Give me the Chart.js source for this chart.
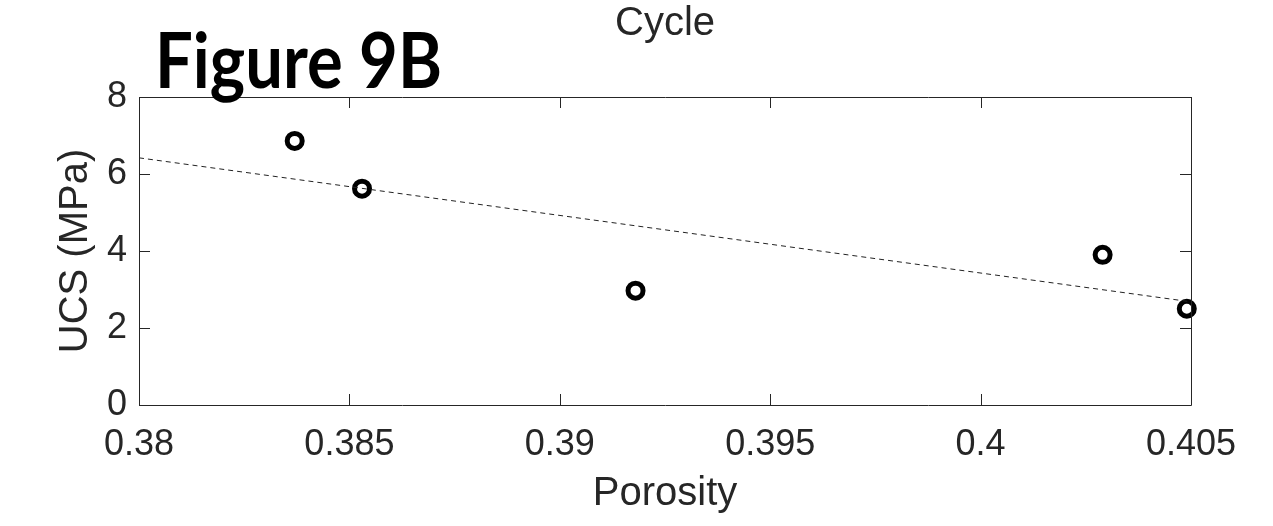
<!DOCTYPE html>
<html>
<head>
<meta charset="utf-8">
<script src="https://cdn.jsdelivr.net/npm/chart.js@4"></script>
<style>
  body { margin: 0; background: #fff; }
  #wrap { position: relative; width: 1273px; height: 526px; }
  #fig-label {
    position: absolute; left: 155px; top: 20px;
    font-family: Lato, "Open Sans", sans-serif; font-weight: bold;
    font-size: 67px; line-height: 67px; color: #000;
    transform-origin: left top; transform: scaleY(1.15);
  }
</style>
</head>
<body>
<div id="wrap">
  <canvas id="chart" width="1273" height="526"></canvas>
  <div id="fig-label">Figure 9B</div>
</div>
<script>
// measured samples: porosity vs UCS
var porosity = [0.3837, 0.3853, 0.3918, 0.4029, 0.4049];
var ucs = [6.86, 5.62, 2.97, 3.90, 2.50];
// dashed fit line end points
var fitX = [0.38, 0.405];
var fitY = [6.42, 2.68];

var textColor = '#262626';

// MATLAB style box with inward ticks
var boxPlugin = {
    id: 'boxTicks',
    afterDatasetsDraw: function(chart) {
        var c = chart.ctx;
        var a = chart.chartArea;
        var xs = chart.scales.x, ys = chart.scales.y;
        var tl = 11;
        c.save();
        c.strokeStyle = textColor;
        c.lineWidth = 1;
        c.beginPath();
        c.rect(Math.round(a.left) + 0.5, Math.round(a.top) + 0.5, Math.round(a.right - a.left), Math.round(a.bottom - a.top));
        xs.ticks.forEach(function(t) {
            var px = Math.round(xs.getPixelForValue(t.value)) + 0.5;
            c.moveTo(px, a.bottom); c.lineTo(px, a.bottom - tl);
            c.moveTo(px, a.top); c.lineTo(px, a.top + tl);
        });
        ys.ticks.forEach(function(t) {
            var py = Math.round(ys.getPixelForValue(t.value)) + 0.5;
            c.moveTo(a.left, py); c.lineTo(a.left + tl, py);
            c.moveTo(a.right, py); c.lineTo(a.right - tl, py);
        });
        c.stroke();
        c.restore();
    }
};

var points = porosity.map(function(v, i) { return {x: v, y: ucs[i]}; });
var fit = fitX.map(function(v, i) { return {x: v, y: fitY[i]}; });

new Chart(document.getElementById('chart'), {
    type: 'scatter',
    data: {
        datasets: [
            {
                type: 'line',
                data: fit,
                borderColor: '#222',
                borderWidth: 1,
                borderDash: [5, 4],
                pointRadius: 0,
                fill: false
            },
            {
                data: points,
                pointRadius: 7.5,
                pointBorderWidth: 5,
                pointBorderColor: '#000',
                pointBackgroundColor: 'rgba(0,0,0,0)',
                clip: false
            }
        ]
    },
    options: {
        responsive: false,
        animation: false,
        layout: { padding: { top: 0, right: 82, bottom: 0, left: 0 } },
        plugins: {
            legend: { display: false },
            tooltip: { enabled: false },
            title: {
                display: true,
                text: 'Cycle',
                fullSize: false,
                color: textColor,
                font: { family: '"Liberation Sans", Arial, sans-serif', size: 40, weight: 'normal', lineHeight: 1.2 },
                padding: { top: 0, bottom: 49 }
            }
        },
        scales: {
            x: {
                type: 'linear',
                min: 0.38, max: 0.405,
                grid: { display: false, drawTicks: false },
                border: { display: false },
                ticks: {
                    stepSize: 0.005,
                    color: textColor,
                    padding: 18,
                    maxRotation: 0,
                    font: { family: '"Liberation Sans", Arial, sans-serif', size: 36 },
                    callback: function(v) { return String(+v.toFixed(3)); }
                },
                title: {
                    display: true,
                    text: 'Porosity',
                    color: textColor,
                    font: { family: '"Liberation Sans", Arial, sans-serif', size: 40 },
                    padding: { top: 4, bottom: 8 }
                },
                afterFit: function(s) { s.height = 121; }
            },
            y: {
                min: 0, max: 8,
                grid: { display: false, drawTicks: false },
                border: { display: false },
                ticks: {
                    stepSize: 2,
                    color: textColor,
                    padding: 12,
                    font: { family: '"Liberation Sans", Arial, sans-serif', size: 36 }
                },
                title: {
                    display: true,
                    text: 'UCS (MPa)',
                    color: textColor,
                    font: { family: '"Liberation Sans", Arial, sans-serif', size: 40 },
                    padding: { top: 52, bottom: 0 }
                },
                afterFit: function(s) { s.width = 139; }
            }
        }
    },
    plugins: [boxPlugin]
});
</script>
</body>
</html>
